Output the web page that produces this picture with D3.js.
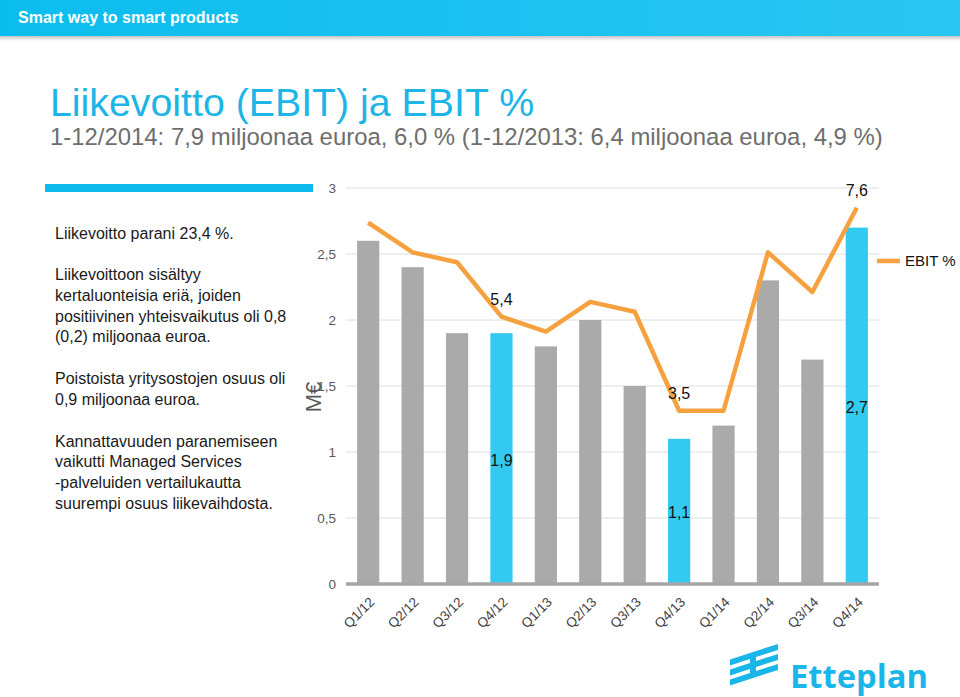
<!DOCTYPE html>
<html><head><meta charset="utf-8">
<script src="https://cdn.jsdelivr.net/npm/d3@7"></script>
<style>body{margin:0;background:#fff}svg{display:block}</style>
</head><body>
<svg id="c" width="960" height="697"></svg>
<script>
// ---- data ----
const categories = ["Q1/12","Q2/12","Q3/12","Q4/12","Q1/13","Q2/13","Q3/13","Q4/13","Q1/14","Q2/14","Q3/14","Q4/14"];
const ebit = [2.6, 2.4, 1.9, 1.9, 1.8, 2.0, 1.5, 1.1, 1.2, 2.3, 1.7, 2.7];
const ebitPct = [7.3, 6.7, 6.5, 5.4, 5.1, 5.7, 5.5, 3.5, 3.5, 6.7, 5.9, 7.6];
const highlighted = ["Q4/12","Q4/13","Q4/14"];
const yTicks = [0, 0.5, 1, 1.5, 2, 2.5, 3];
const yDomain = [0, 3];
const y2Domain = [0, 8];
const headerText = "Smart way to smart products";
const title = "Liikevoitto (EBIT) ja EBIT %";
const subtitle = "1-12/2014: 7,9 miljoonaa euroa, 6,0 % (1-12/2013: 6,4 miljoonaa euroa, 4,9 %)";
const notes = [
  ["Liikevoitto parani 23,4 %.", 239],
  ["Liikevoittoon sisältyy", 280],
  ["kertaluonteisia eriä, joiden", 301],
  ["positiivinen yhteisvaikutus oli 0,8", 322],
  ["(0,2) miljoonaa euroa.", 342],
  ["Poistoista yritysostojen osuus oli", 384],
  ["0,9 miljoonaa euroa.", 405],
  ["Kannattavuuden paranemiseen", 447],
  ["vaikutti Managed Services", 467],
  ["-palveluiden vertailukautta", 488],
  ["suurempi osuus liikevaihdosta.", 509]
];
const yLabel = "M€";
const legendLabel = "EBIT %";
const fmt = v => String(v).replace(".", ",");

const font = "'Liberation Sans', Arial, sans-serif";
const svg = d3.select("#c");
const defs = svg.append("defs");

// header
const hg = defs.append("linearGradient").attr("id","hg");
hg.append("stop").attr("offset","0").attr("stop-color","#0bbdee");
hg.append("stop").attr("offset","1").attr("stop-color","#29c6f2");
const sg = defs.append("linearGradient").attr("id","sg").attr("x1",0).attr("x2",0).attr("y1",0).attr("y2",1);
sg.append("stop").attr("offset","0").attr("stop-color","#c4c4c4");
sg.append("stop").attr("offset","1").attr("stop-color","#ffffff");
svg.append("rect").attr("x",0).attr("y",0).attr("width",960).attr("height",36).attr("fill","url(#hg)");
svg.append("rect").attr("x",0).attr("y",36).attr("width",960).attr("height",5).attr("fill","url(#sg)");
svg.append("text").attr("x",18).attr("y",23).attr("fill","#fff").attr("font-family",font)
  .attr("font-weight","bold").attr("font-size",16).text(headerText);

// title
svg.append("text").attr("x",50).attr("y",116).attr("fill","#1db4e6").attr("font-family",font)
  .attr("font-size",39.3).text(title);
svg.append("text").attr("x",50).attr("y",145).attr("fill","#6e6e6e").attr("font-family",font)
  .attr("font-size",23.9).text(subtitle);

// blue rule
svg.append("rect").attr("x",45).attr("y",184).attr("width",268).attr("height",8).attr("fill","#0db9ed");

// notes
svg.append("g").selectAll("text").data(notes).join("text")
  .attr("x",55).attr("y",d=>d[1]).attr("fill","#1a1a1a").attr("font-family",font)
  .attr("font-size",16).text(d=>d[0]);

// scales
const x = d3.scaleBand().domain(categories).range([346,879]).paddingInner(0.5).paddingOuter(0.25);
const y = d3.scaleLinear().domain(yDomain).range([584,188]);
const y2 = d3.scaleLinear().domain(y2Domain).range([584,188]);

// gridlines + y axis
const yAxis = d3.axisLeft(y).tickValues(yTicks).tickFormat(fmt).tickSize(0).tickPadding(0);
const ga = svg.append("g").attr("transform","translate(336,0)").call(yAxis);
ga.select(".domain").remove();
ga.selectAll("text").attr("fill","#595959").attr("font-family",font).attr("font-size",13.5);
svg.append("g").selectAll("line").data(yTicks.filter(t=>t>0)).join("line")
  .attr("x1",346).attr("x2",879).attr("y1",d=>y(d)).attr("y2",d=>y(d))
  .attr("stroke","#dedede").attr("stroke-width",1);

// y label
svg.append("text").attr("transform","translate(321,397) rotate(-90)").attr("text-anchor","middle")
  .attr("fill","#595959").attr("font-family",font).attr("font-size",22).text(yLabel);

// bars
svg.append("g").selectAll("rect").data(categories).join("rect")
  .attr("x",d=>x(d)).attr("width",x.bandwidth())
  .attr("y",(d,i)=>y(ebit[i])).attr("height",(d,i)=>y(0)-y(ebit[i]))
  .attr("fill",d=>highlighted.includes(d)?"#33c9f1":"#aaaaaa");

// baseline
svg.append("line").attr("x1",346).attr("x2",879).attr("y1",y(0)).attr("y2",y(0))
  .attr("stroke","#a6a6a6").attr("stroke-width",3.5);

// x labels
const xAxis = d3.axisBottom(x).tickSize(0).tickPadding(0);
const gx = svg.append("g").call(xAxis);
gx.select(".domain").remove();
gx.selectAll(".tick").attr("transform",d=>`translate(${x(d)+x.bandwidth()/2+7},603)`);
gx.selectAll("text").attr("transform","rotate(-45)").attr("text-anchor","end").attr("dy",0).attr("y",0)
  .attr("fill","#404040").attr("font-family",font).attr("font-size",13.5);

// line
const line = d3.line().x((d,i)=>x(categories[i])+x.bandwidth()/2).y(d=>y2(d));
svg.append("path").datum(ebitPct).attr("d",line).attr("fill","none")
  .attr("stroke","#f5a13f").attr("stroke-width",4.5).attr("stroke-linejoin","round");

// data labels
const hi = categories.map((c,i)=>i).filter(i=>highlighted.includes(categories[i]));
svg.append("g").selectAll("text").data(hi).join("text")
  .attr("x",i=>x(categories[i])+x.bandwidth()/2).attr("y",i=>y2(ebitPct[i])-12)
  .attr("text-anchor","middle").attr("fill","#111").attr("font-family",font).attr("font-size",16)
  .text(i=>fmt(ebitPct[i]));
svg.append("g").selectAll("text").data(hi).join("text")
  .attr("x",i=>x(categories[i])+x.bandwidth()/2).attr("y",i=>(y(ebit[i])+y(0))/2+7)
  .attr("text-anchor","middle").attr("fill","#111").attr("font-family",font).attr("font-size",16)
  .text(i=>fmt(ebit[i]));

// legend
svg.append("line").attr("x1",877).attr("x2",900).attr("y1",261).attr("y2",261)
  .attr("stroke","#f5a13f").attr("stroke-width",4.5);
svg.append("text").attr("x",905).attr("y",266).attr("fill","#111").attr("font-family",font)
  .attr("font-size",15).text(legendLabel);

// logo
const lg = svg.append("g").attr("transform","translate(753,665) skewY(-18)").attr("fill","#1ab6ea");
lg.append("rect").attr("x",-3).attr("y",-13).attr("width",6).attr("height",26);
[-13,-3,7].forEach(yy=>{
  lg.append("rect").attr("x",-23).attr("y",yy).attr("width",20).attr("height",6);
  lg.append("rect").attr("x",3).attr("y",yy).attr("width",22).attr("height",6);
});
svg.append("text").attr("x",790).attr("y",688).attr("fill","#1ab6ea")
  .attr("font-family","'Open Sans', sans-serif").attr("font-weight","bold").attr("font-size",32)
  .attr("textLength",138).attr("lengthAdjust","spacingAndGlyphs").text("Etteplan");
</script>
</body></html>
